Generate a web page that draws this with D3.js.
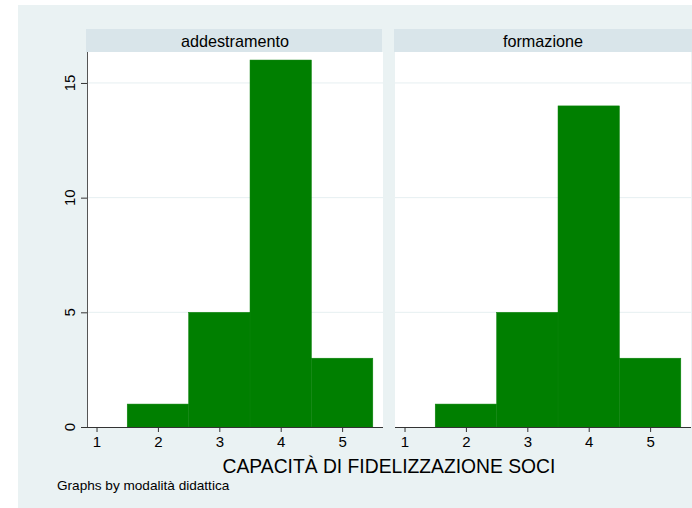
<!DOCTYPE html>
<html><head><meta charset="utf-8">
<script src="https://cdn.jsdelivr.net/npm/d3@7"></script>
<style>body{margin:0;background:#fff}svg{display:block}text{font-family:"Liberation Sans",Arial,sans-serif;fill:#000}</style>
</head><body><svg id="c" width="692" height="508"></svg>
<script>
const panels = ["addestramento", "formazione"];
const bins = [1, 2, 3, 4, 5];
const countsAddestramento = [0, 1, 5, 16, 3];
const countsFormazione = [0, 1, 5, 14, 3];
const yTicks = [0, 5, 10, 15];
const xTicks = [1, 2, 3, 4, 5];
const xTitle = "CAPACITÀ DI FIDELIZZAZIONE SOCI";
const note = "Graphs by modalità didattica";
const seriesList = [countsAddestramento, countsFormazione];

(function(){
const svg = d3.select("#c");
svg.append("rect").attr("x",18).attr("y",5).attr("width",674).attr("height",503).attr("fill","#eaf2f3");

const panelLefts = [87, 395];
const pw = 296, pTop = 52, pBottom = 427;
const y = d3.scaleLinear().domain([0, 16.35]).range([pBottom, pTop]);

panels.forEach((name, i) => {
  const left = panelLefts[i];
  const x = d3.scaleLinear().domain([0.845, 0.845 + pw/61.4]).range([left, left+pw]);
  const g = svg.append("g");
  g.append("rect").attr("x", left-1).attr("y",29).attr("width",pw+(i==0?0:2)).attr("height",23).attr("fill","#d9e5ea");
  g.append("text").attr("x", left+pw/2).attr("y",46.5).attr("text-anchor","middle").attr("font-size",16.2).text(name);
  g.append("rect").attr("x",left).attr("y",pTop).attr("width",pw).attr("height",pBottom-pTop).attr("fill","#fff");
  g.selectAll("line.grid").data(yTicks.filter(d=>d>0)).join("line").attr("class","grid")
    .attr("x1",left).attr("x2",left+pw).attr("y1",d=>y(d)).attr("y2",d=>y(d))
    .attr("stroke","#e6eff1").attr("stroke-width",1);
  const data = bins.map((b,k)=>({b, v: seriesList[i][k]})).filter(d=>d.v>0);
  g.selectAll("rect.bar").data(data).join("rect").attr("class","bar")
    .attr("x", d=>x(d.b-0.5)).attr("width", d=>x(d.b+0.5)-x(d.b-0.5))
    .attr("y", d=>y(d.v)).attr("height", d=>y(0)-y(d.v))
    .attr("fill","#007f00").attr("stroke","#0a820a").attr("stroke-width",0.5);
  const xa = g.append("g").attr("transform",`translate(0,${pBottom})`)
    .call(d3.axisBottom(x).tickValues(xTicks).tickSize(5).tickPadding(4).tickFormat(d3.format("d")));
  xa.attr("font-size",null).attr("font-family",null);
  xa.select(".domain").attr("d",`M${left},0.5H${left+pw}`).attr("stroke","#333");
  xa.selectAll(".tick line").attr("stroke","#333");
  xa.selectAll(".tick text").style("font-size","15px").style("font-family","Liberation Sans, Arial, sans-serif").attr("fill","#000");
  if (i === 0) {
    const ya = g.append("g").attr("transform",`translate(${left},0)`)
      .call(d3.axisLeft(y).tickValues(yTicks).tickSize(6).tickPadding(0).tickFormat(d3.format("d")));
    ya.select(".domain").attr("d",`M0.5,${pTop}V${pBottom}`).attr("stroke","#555");
    ya.selectAll(".tick line").attr("stroke","#333");
    ya.selectAll(".tick text").remove();
    g.selectAll("text.ylab").data(yTicks).join("text").attr("class","ylab")
      .attr("transform", d=>`translate(${left-12},${y(d)}) rotate(-90)`)
      .attr("text-anchor","middle").style("font-size","15px").text(d=>d);
  }
});

svg.append("text").attr("x",389).attr("y",473).attr("text-anchor","middle").style("font-size","19.3px").text(xTitle);
svg.append("text").attr("x",57).attr("y",490).style("font-size","13.6px").text(note);
})();
</script></body></html>
